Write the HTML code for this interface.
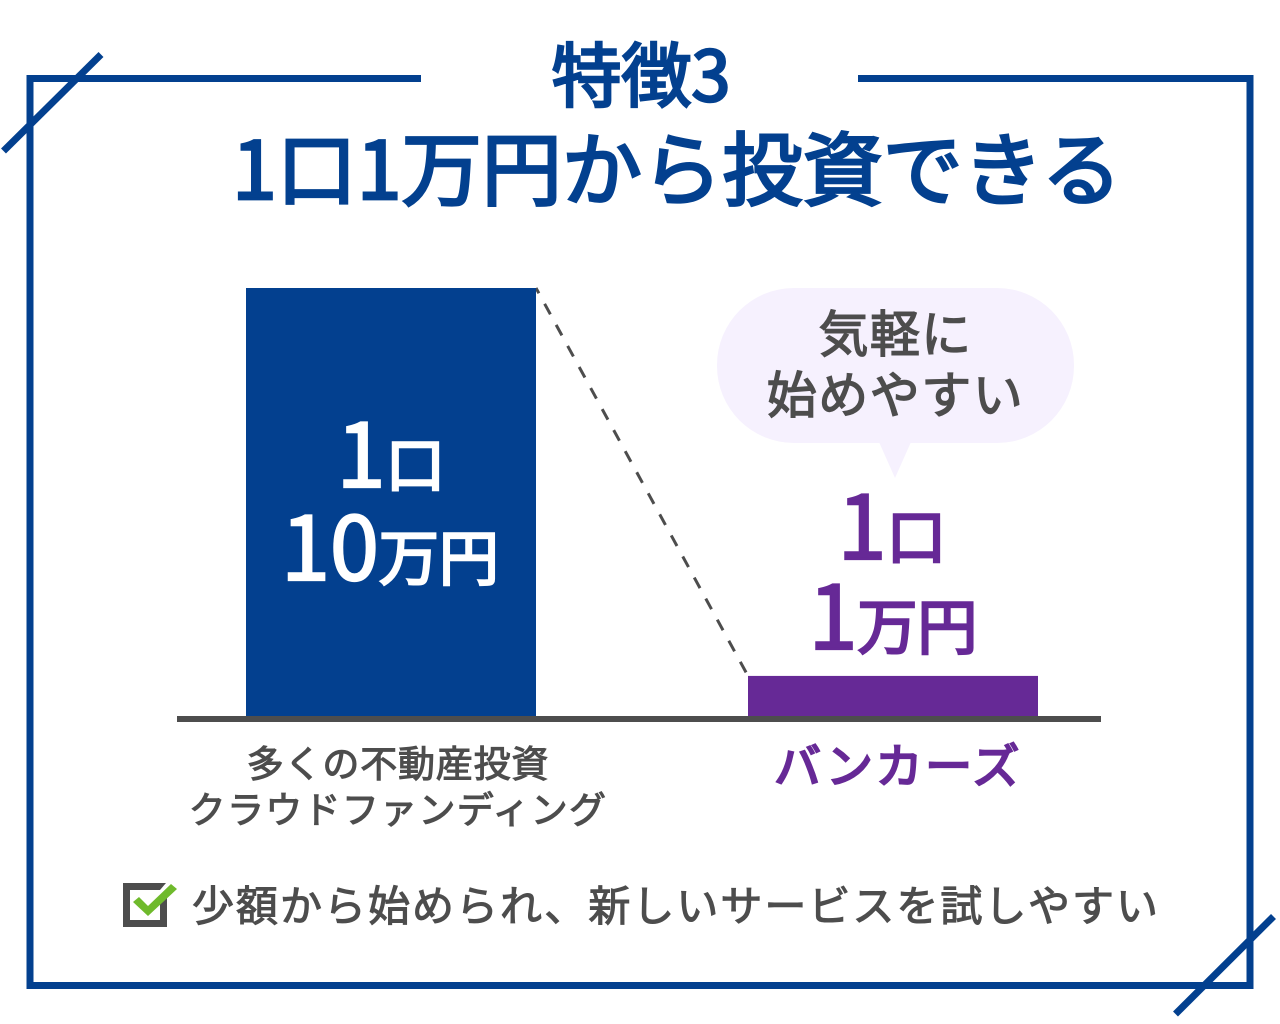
<!DOCTYPE html>
<html lang="ja">
<head>
<meta charset="utf-8">
<title>特徴3 1口1万円から投資できる</title>
<style>
html,body{margin:0;padding:0;background:#fff;width:1280px;height:1024px;overflow:hidden}
svg{display:block}
text{font-family:"Noto Sans CJK JP",sans-serif;font-weight:400;stroke-linejoin:miter}
</style>
</head>
<body>
<svg id="chart" xmlns="http://www.w3.org/2000/svg" width="1280" height="1024" viewBox="0 0 1280 1024">
  <rect x="0" y="0" width="1280" height="1024" fill="#ffffff"/>
  <g fill="none" stroke="#03408f" stroke-width="7">
    <path d="M421 78.5H30V985.5H1250V78.5H858"/>
    <line x1="3.5" y1="151" x2="101" y2="54.5"/>
    <line x1="1175.5" y1="1014" x2="1273.5" y2="916.5"/>
  </g>
  <text x="641" y="101" text-anchor="middle" font-size="70" fill="#03408f" stroke="#03408f" stroke-width="2.6">特徴3</text>
  <text x="677" y="199" text-anchor="middle" font-size="80" letter-spacing="0.2" fill="#03408f" stroke="#03408f" stroke-width="2.8">1口1万円から投資できる</text>

  <g>
    <rect x="717" y="288" width="357" height="155" rx="77" ry="77" fill="#f6f1fe"/>
    <polygon points="879,442 911,442 895,478" fill="#f6f1fe"/>
    <text x="895.5" y="352" text-anchor="middle" font-size="50" letter-spacing="1.3" fill="#4d4d4d" stroke="#4d4d4d" stroke-width="1.4">気軽に</text>
    <text x="895.5" y="413" text-anchor="middle" font-size="50" letter-spacing="1.5" fill="#4d4d4d" stroke="#4d4d4d" stroke-width="1.4">始めやすい</text>
  </g>

  <g id="plot"></g>

  <g>
    <path d="M123 883H166L160 890H130V920H160V902L167 896V927H123Z" fill="#4d4d4d"/>
    <path d="M133 902L139 897L148 906L171 884L177 889L148 916Z" fill="#6fba2c"/>
    <text x="192" y="921" font-size="42" letter-spacing="2" fill="#4d4d4d" stroke="#4d4d4d" stroke-width="1.1">少額から始められ、新しいサービスを試しやすい</text>
  </g>
</svg>
<script>
// Chart data
var categories = [["多くの不動産投資", "クラウドファンディング"], ["バンカーズ"]];
var seriesValues = [10, 1];
var valueUnitLabels = ["万円", "万円"];
var shareLabels = ["1口", "1口"];
var yDomain = [0.07, 10];

// Axis functions
var NS = "http://www.w3.org/2000/svg";
var plot = document.getElementById("plot");
var baselineY = 716;
var topY = 288;
var barWidth = 290;
function yScale(v) {
  return baselineY - (v - yDomain[0]) / (yDomain[1] - yDomain[0]) * (baselineY - topY);
}
function xLeft(i) {
  return 246 + i * 502;
}
function add(tag, attrs, text) {
  var el = document.createElementNS(NS, tag);
  for (var k in attrs) { el.setAttribute(k, attrs[k]); }
  if (text !== undefined) { el.textContent = text; }
  return el;
}

var barColors = ["#03408f", "#662996"];
var labelColors = ["#ffffff", "#662996"];
var catColors = ["#4d4d4d", "#662996"];

// dashed connector between bar tops
var connector = add("line", {
  x1: xLeft(0) + barWidth, y1: yScale(seriesValues[0]),
  x2: xLeft(1), y2: yScale(seriesValues[1]),
  stroke: "#4d4d4d", "stroke-width": 3, "stroke-dasharray": "12 12", "stroke-dashoffset": 6
});


plot.appendChild(connector);

seriesValues.forEach(function (v, i) {
  var top = yScale(v);
  var bar = add("rect", {
    x: xLeft(i), y: top, width: barWidth, height: baselineY - top, fill: barColors[i]
  });
  
  
  plot.appendChild(bar);

  var cx = xLeft(i) + barWidth / 2;
  // Value labels: inside the tall bar, above the short one
  var line1Y = i === 0 ? 487 : 559;
  var line2Y = i === 0 ? 580 : 649;

  var t1 = add("text", {
    x: cx + (i === 0 ? 0 : -1), y: line1Y, "text-anchor": "middle", fill: labelColors[i]
  });
  
  
  var s = shareLabels[i];
  t1.appendChild(add("tspan", {"font-size": 88, stroke: labelColors[i], "stroke-width": 2.2}, s.charAt(0)));
  t1.appendChild(add("tspan", {"font-size": 60, stroke: labelColors[i], "stroke-width": 2.4}, s.slice(1)));
  plot.appendChild(t1);

  var t2 = add("text", {
    x: cx + (i === 0 ? -1 : 0), y: line2Y, "text-anchor": "middle", fill: labelColors[i]
  });
  
  
  t2.appendChild(add("tspan", {"font-size": 88, stroke: labelColors[i], "stroke-width": 2.2}, String(v)));
  t2.appendChild(add("tspan", {"font-size": 60, stroke: labelColors[i], "stroke-width": 2.4}, valueUnitLabels[i]));
  plot.appendChild(t2);

  categories[i].forEach(function (line, j) {
    var cat = add("text", {
      x: i === 0 ? cx + 7 : cx + 5,
      y: i === 0 ? 777 + j * 46 : 783,
      "text-anchor": "middle",
      fill: catColors[i],
      stroke: catColors[i],
      "stroke-width": i === 0 ? 1.1 : 2.2,
      "font-size": i === 0 ? 37 : 47,
      "letter-spacing": i === 0 ? (j === 0 ? 0.8 : 1.3) : 2.6
    }, line);
    
    
    plot.appendChild(cat);
  });
});

var axis = add("rect", {x: 177, y: baselineY, width: 924, height: 6, fill: "#4d4d4d"});


plot.appendChild(axis);
</script>
</body>
</html>
